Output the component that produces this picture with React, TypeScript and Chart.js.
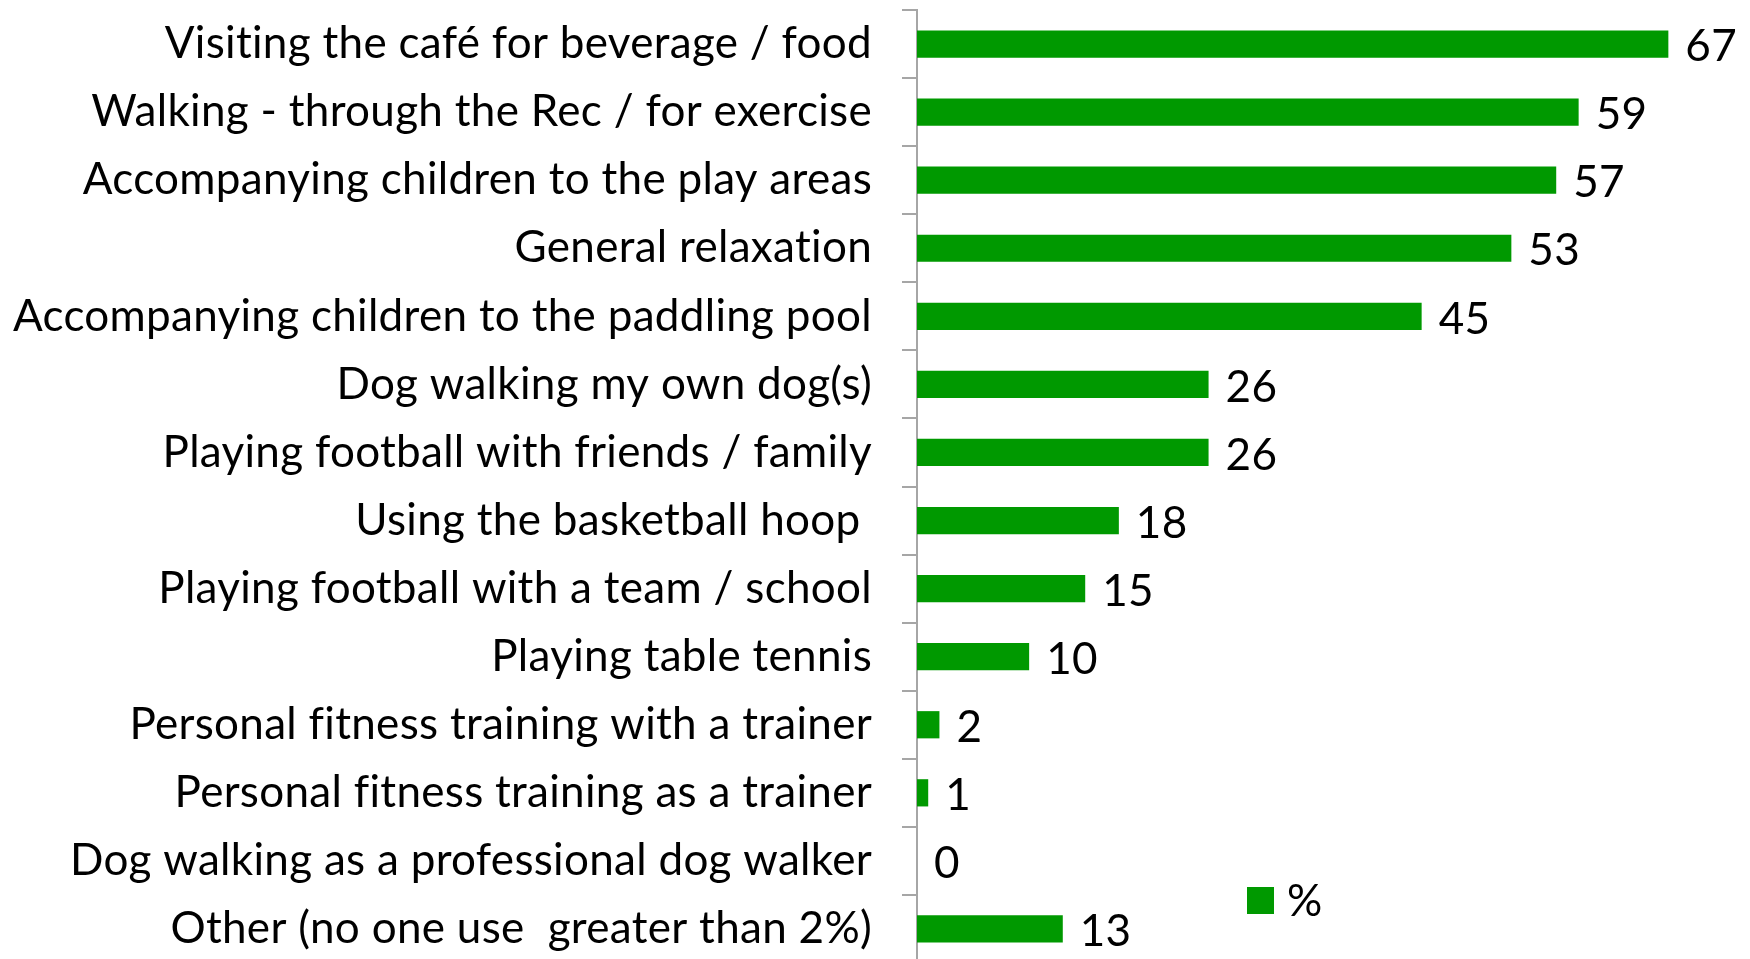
import React, { useEffect, useRef } from "react";
import { Chart, registerables } from "chart.js";

Chart.register(...registerables);

const categories = [
  "Visiting the café for beverage / food",
  "Walking - through the Rec / for exercise",
  "Accompanying children to the play areas",
  "General relaxation",
  "Accompanying children to the paddling pool",
  "Dog walking my own dog(s)",
  "Playing football with friends / family",
  "Using the basketball hoop ",
  "Playing football with a team / school",
  "Playing table tennis",
  "Personal fitness training with a trainer",
  "Personal fitness training as a trainer",
  "Dog walking as a professional dog walker",
  "Other (no one use  greater than 2%)",
];

const percentValues = [67, 59, 57, 53, 45, 26, 26, 18, 15, 10, 2, 1, 0, 13];

const seriesLabel = "%";
const BAR_COLOR = "#009900";
const AXIS_COLOR = "#a6a6a6";
const FONT_FAMILY = "Lato, 'Open Sans', sans-serif";
const FONT_SIZE = 44;

const noLigaturePlugin = {
  id: "noLigatures",
  beforeDraw(chart: any) {
    try {
      chart.ctx.letterSpacing = "0.3px";
    } catch (e) {}
  },
};

const valueLabelPlugin = {
  id: "valueLabels",
  afterDatasetsDraw(chart: any) {
    const ctx = chart.ctx;
    const meta = chart.getDatasetMeta(0);
    const data = chart.data.datasets[0].data;
    ctx.save();
    ctx.font = `${FONT_SIZE}px ${FONT_FAMILY}`;
    ctx.fillStyle = "#000";
    ctx.textAlign = "left";
    ctx.textBaseline = "middle";
    meta.data.forEach((bar: any, i: number) => {
      ctx.fillText(String(data[i]), bar.x + 17, bar.y + 3);
    });
    ctx.restore();
  },
};

const legendPlugin = {
  id: "customLegend",
  afterDraw(chart: any) {
    const ctx = chart.ctx;
    const ds = chart.data.datasets[0];
    ctx.save();
    const bx = 1247;
    const by = 887;
    ctx.fillStyle = ds.backgroundColor;
    ctx.fillRect(bx, by, 27, 27);
    ctx.font = `${FONT_SIZE}px ${FONT_FAMILY}`;
    ctx.fillStyle = "#000";
    ctx.textAlign = "left";
    ctx.textBaseline = "middle";
    ctx.fillText(ds.label, bx + 40, by + 15);
    ctx.restore();
  },
};

export default function App() {
  const canvasRef = useRef<HTMLCanvasElement | null>(null);

  useEffect(() => {
    if (!canvasRef.current) return;
    const chart = new Chart(canvasRef.current, {
      type: "bar",
      data: {
        labels: categories,
        datasets: [
          {
            label: seriesLabel,
            data: percentValues,
            backgroundColor: BAR_COLOR,
            borderWidth: 0,
            barPercentage: 0.4,
            categoryPercentage: 1,
          },
        ],
      },
      options: {
        indexAxis: "y",
        animation: false,
        responsive: false,
        maintainAspectRatio: false,
        layout: { padding: { top: 10, bottom: 0, left: 0, right: 48 } },
        plugins: {
          legend: { display: false },
          tooltip: { enabled: false },
        },
        scales: {
          x: {
            display: false,
            min: 0,
            max: 70,
          },
          y: {
            afterFit: (scale: any) => {
              scale.width = 917;
              scale.paddingTop = 0;
              scale.paddingBottom = 0;
            },
            grid: {
              display: true,
              drawOnChartArea: false,
              drawTicks: true,
              tickLength: 15,
              color: AXIS_COLOR,
              lineWidth: 2,
              offset: true,
            },
            border: { display: true, color: AXIS_COLOR, width: 2 },
            ticks: {
              color: "#000",
              padding: 30,
              autoSkip: false,
              font: { family: FONT_FAMILY, size: FONT_SIZE },
            },
          },
        },
      },
      plugins: [noLigaturePlugin, valueLabelPlugin, legendPlugin],
    });
    return () => chart.destroy();
  }, []);

  return (
    <div
      style={{
        position: "fixed",
        left: 0,
        top: 0,
        width: 1750,
        height: 959,
        overflow: "hidden",
        background: "#fff",
      }}
    >
      <canvas
        ref={canvasRef}
        width={1750}
        height={963}
        style={{ display: "block", width: 1750, height: 963 }}
      />
    </div>
  );
}
